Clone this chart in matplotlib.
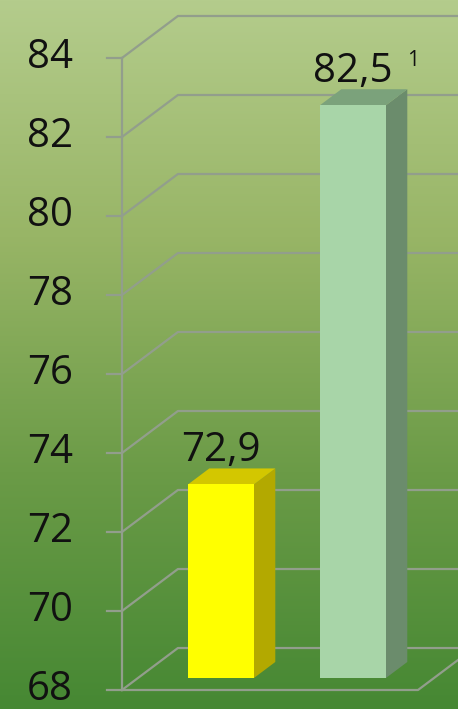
import numpy as np
import matplotlib.pyplot as plt
from matplotlib.patches import Polygon
from matplotlib.colors import LinearSegmentedColormap

# data
categories = ["A", "B"]
values = [72.9, 82.5]
labels = ["72,9", "82,5"]
footnotes = ["", "1"]
yticks = [68, 70, 72, 74, 76, 78, 80, 82, 84]
tick_labels = ["68", "70", "72", "74", "76", "78", "80", "82", "84"]

# style
front_cols = ["#ffff00", "#a8d5a8"]
side_cols = ["#b3a900", "#6b8c6c"]
top_cols = ["#d3c700", "#7ba27b"]
grid_col = "#929e8c"
font = ["Open Sans", "DejaVu Sans"]

fig = plt.figure(figsize=(4.58, 7.09), dpi=100)
ax = fig.add_axes([0, 0, 1, 1])
ax.set_xlim(-1.553, 1.917)
ax.set_ylim(67.519, 85.468)
ax.axis("off")

# background gradient
bg = LinearSegmentedColormap.from_list("bg", ["#b4cc8c", "#98b566", "#6b9b47", "#468833"])
grad = np.linspace(0, 1, 256).reshape(-1, 1)
ax.imshow(grad, cmap=bg, aspect="auto", extent=(-1.553, 1.917, 67.519, 85.468),
          origin="upper", zorder=0)

# 3d geometry (data units)
Dx, Dy = 0.424, 1.063      # depth of the floor
f0, f1 = 0.286, 0.667      # bar front/back as fraction of depth
bw = 0.5
x_left, x_right = -0.629, 1.614
x_end = ax.get_xlim()[1]

# back wall + left wall grid lines
for v in yticks:
    ax.plot([x_left, x_left + Dx, x_end], [v, v + Dy, v + Dy], color=grid_col, lw=1.6, zorder=1)
    ax.plot([x_left - 0.114, x_left], [v, v], color=grid_col, lw=1.6, zorder=1)
# front axis and floor
ax.plot([x_left, x_left], [yticks[0], yticks[-1]], color=grid_col, lw=1.6, zorder=1)
ax.plot([x_left, x_right, x_right + Dx], [yticks[0], yticks[0], yticks[0] + Dy],
        color=grid_col, lw=1.6, zorder=1)

for v, lab in zip(yticks, tick_labels):
    ax.text(-1.0, v, lab, ha="right", va="center", fontsize=29, family=font, color="#111111")

# bars
base = yticks[0]
for i, v in enumerate(values):
    x0 = i + f0 * Dx - bw / 2
    y0 = base + f0 * Dy
    y1 = v + f0 * Dy
    dx, dy = (f1 - f0) * Dx, (f1 - f0) * Dy
    front = [(x0, y0), (x0 + bw, y0), (x0 + bw, y1), (x0, y1)]
    side = [(x0 + bw, y0), (x0 + bw + dx, y0 + dy), (x0 + bw + dx, y1 + dy), (x0 + bw, y1)]
    top = [(x0, y1), (x0 + bw, y1), (x0 + bw + dx, y1 + dy), (x0 + dx, y1 + dy)]
    ax.add_patch(Polygon(side, closed=True, fc=side_cols[i], ec="none", zorder=3))
    ax.add_patch(Polygon(top, closed=True, fc=top_cols[i], ec="none", zorder=3))
    ax.add_patch(Polygon(front, closed=True, fc=front_cols[i], ec="none", zorder=3))
    ax.annotate(labels[i], xy=(x0 + bw / 2, y1 + dy), xytext=(0, -2), textcoords="offset points",
                ha="center", va="bottom", fontsize=29, family=font, color="#111111", zorder=4)
    if footnotes[i]:
        ax.annotate(footnotes[i], xy=(x0 + bw / 2, y1 + dy), xytext=(43, 13),
                    textcoords="offset points", ha="center", va="bottom",
                    fontsize=15, family=font, color="#111111", zorder=4)

fig.savefig("out.png", dpi=100)
